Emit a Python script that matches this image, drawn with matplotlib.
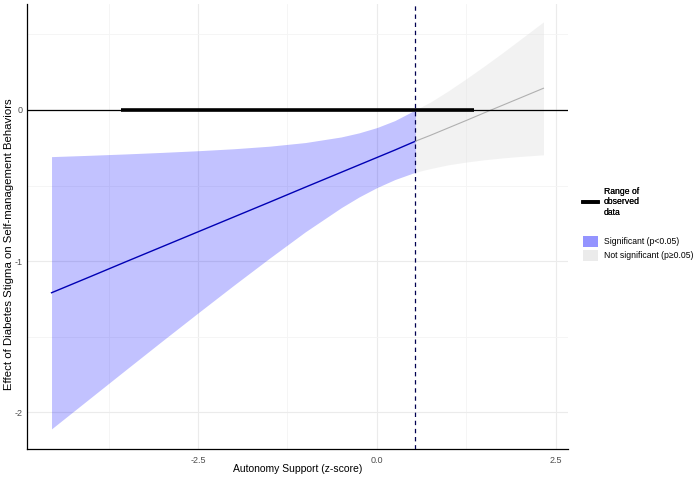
import matplotlib
matplotlib.use("Agg")
import matplotlib.pyplot as plt
from matplotlib.lines import Line2D
from matplotlib.patches import Patch

plt.rcParams['font.family'] = ['Liberation Sans', 'DejaVu Sans']
plt.rcParams['axes.unicode_minus'] = False

# Johnson-Neyman values
sig_x = [-4.55, -4.0, -3.5, -3.0, -2.5, -2.0, -1.5, -1.0, -0.5, -0.25, 0.0, 0.25, 0.54]
sig_est = [-1.209, -1.101, -1.002, -0.904, -0.806, -0.708, -0.610, -0.511, -0.413, -0.364, -0.315, -0.266, -0.207]
sig_lo = [-2.109, -1.902, -1.714, -1.527, -1.342, -1.159, -0.980, -0.806, -0.647, -0.576, -0.514, -0.461, -0.412]
sig_hi = [-0.309, -0.300, -0.291, -0.281, -0.270, -0.257, -0.240, -0.216, -0.179, -0.152, -0.117, -0.071, 0.0]

ns_x = [0.54, 0.75, 1.0, 1.25, 1.5, 1.75, 2.0, 2.33]
ns_est = [-0.207, -0.168, -0.119, -0.070, -0.020, 0.029, 0.078, 0.143]
ns_lo = [-0.412, -0.388, -0.363, -0.345, -0.330, -0.318, -0.308, -0.297]
ns_hi = [0.0, 0.052, 0.126, 0.206, 0.289, 0.375, 0.464, 0.582]

jn_point = 0.54
observed_range = [-3.58, 1.36]

x_ticks = [-2.5, 0.0, 2.5]
y_ticks = [-2, -1, 0]

fig = plt.figure(figsize=(6.95, 4.79), dpi=100)
ax = fig.add_axes([27 / 695, 30 / 479, 541 / 695, 445 / 479])

ax.fill_between(sig_x, sig_lo, sig_hi, color='#0000FF', alpha=0.24, lw=0, zorder=2)
ax.fill_between(ns_x, ns_lo, ns_hi, color='#E0E0E0', alpha=0.4, lw=0, zorder=2)
ax.plot(sig_x, sig_est, color='#0000B4', lw=1.0, zorder=3)
ax.plot(ns_x, ns_est, color='#B0B0B0', lw=0.8, zorder=3)

ax.axhline(0, color='black', lw=0.9, zorder=4)
ax.plot(observed_range, [0, 0], color='black', lw=2.6, solid_capstyle='butt', zorder=5)
ax.axvline(jn_point, color='#000050', lw=0.9, ls=(0, (3.5, 3)), zorder=5)

ax.set_xlim(-4.893, 2.673)
ax.set_ylim(-2.242, 0.7)
ax.set_xticks(x_ticks)
ax.set_xticklabels(['-2.5', '0.0', '2.5'])
ax.set_yticks(y_ticks)
ax.set_xticks([-3.75, -1.25, 1.25], minor=True)
ax.set_yticks([-1.5, -0.5, 0.5], minor=True)
ax.grid(which='major', color='#EBEBEB', lw=0.8)
ax.grid(which='minor', color='#F4F4F4', lw=0.6)
ax.set_axisbelow(True)
ax.tick_params(which='both', length=0, labelsize=6.5, labelcolor='#4D4D4D')
ax.tick_params(axis='y', pad=3)
ax.tick_params(axis='x', pad=5)

for s in ['top', 'right']:
    ax.spines[s].set_visible(False)
for s in ['left', 'bottom']:
    ax.spines[s].set_color('black')
    ax.spines[s].set_linewidth(0.9)

ax.set_xlabel('Autonomy Support (z-score)', fontsize=7.5)
ax.set_ylabel('Effect of Diabetes Stigma on Self-management Behaviors', fontsize=8.2)
ax.xaxis.set_label_coords(0.5, -0.034)
ax.yaxis.set_label_coords(-0.0235, 0.46)

leg1 = fig.legend(handles=[Line2D([], [], color='black', lw=2.6)],
                  labels=['Range of\nobserved\ndata'],
                  loc='center left', bbox_to_anchor=(583 / 695, 1 - 202 / 479),
                  frameon=False, fontsize=6.2, handlelength=1.7, handletextpad=0.7,
                  borderpad=0, borderaxespad=0)
fig.add_artist(leg1)

fig.legend(handles=[Patch(facecolor='#9494FF', lw=0), Patch(facecolor='#EBEBEB', lw=0)],
           labels=['Significant (p<0.05)', 'Not significant (p\u22650.05)'],
           loc='upper left', bbox_to_anchor=(583 / 695, 1 - 236 / 479),
           frameon=False, fontsize=6.2, handlelength=1.7, handleheight=1.5,
           handletextpad=0.7, labelspacing=0.45, borderpad=0, borderaxespad=0)

fig.savefig('out.png', dpi=100)
